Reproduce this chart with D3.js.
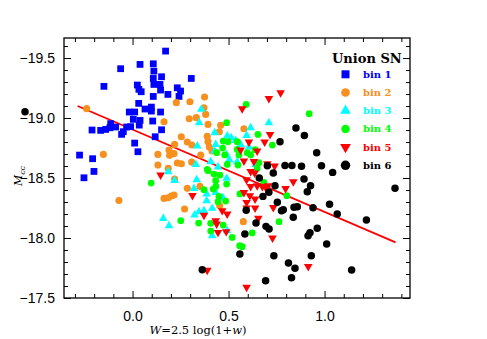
<!DOCTYPE html>
<html><head><meta charset="utf-8">
<script src="https://cdn.jsdelivr.net/npm/d3@7"></script>
<style>html,body{margin:0;padding:0;background:#fff;}svg{display:block;}</style>
</head><body>
<svg id="chart" width="487" height="339"></svg>
<script>
// ---- data (W, M) per bin ----
const bin1 = [[0.172,-19.558],[0.039,-19.447],[0.108,-19.452],[-0.062,-19.411],[0.111,-19.391],[-0.149,-19.264],[0.025,-19.275],[0.108,-19.330],[0.151,-19.344],[0.306,-19.330],[0.111,-19.280],[0.033,-19.239],[0.045,-19.219],[0.143,-19.280],[0.146,-19.233],[0.233,-19.252],[0.250,-19.225],[0.184,-19.197],[0.108,-19.180],[0.242,-19.180],[0.032,-19.122],[0.065,-19.075],[0.098,-19.091],[0.098,-19.058],[-0.017,-19.050],[0.011,-19.050],[0.146,-19.050],[0.105,-18.975],[0.004,-18.989],[0.039,-18.980],[0.035,-18.941],[-0.114,-18.953],[-0.211,-18.900],[-0.166,-18.897],[-0.140,-18.905],[-0.118,-18.919],[-0.088,-18.925],[-0.031,-18.925],[-0.010,-18.928],[-0.048,-18.886],[-0.057,-18.864],[0.151,-18.902],[0.118,-18.844],[0.011,-18.791],[0.028,-18.719],[-0.276,-18.691],[-0.208,-18.661],[-0.253,-18.502],[-0.201,-18.555]];
const bin2 = [[-0.239,-19.078],[-0.152,-18.697],[0.228,-19.128],[0.299,-19.136],[0.375,-19.175],[0.372,-19.086],[0.381,-19.030],[0.295,-18.994],[0.332,-19.003],[0.164,-18.969],[0.393,-18.947],[0.459,-18.939],[0.452,-18.886],[0.389,-18.847],[0.254,-18.844],[0.285,-18.800],[0.219,-18.780],[0.190,-18.733],[0.393,-18.803],[0.400,-18.758],[0.414,-18.725],[0.309,-18.775],[0.355,-18.692],[0.132,-18.697],[0.193,-18.689],[0.216,-18.703],[0.233,-18.625],[0.254,-18.619],[0.132,-18.608],[0.186,-18.580],[0.308,-18.633],[-0.071,-18.313],[0.219,-18.491],[0.285,-18.414],[0.351,-18.430],[0.164,-18.330],[0.186,-18.336],[0.202,-18.350],[0.216,-18.358],[0.271,-18.242],[0.454,-18.269],[0.580,-18.911],[0.577,-18.136]];
const bin3 = [[0.358,-19.072],[0.347,-18.961],[0.428,-18.878],[0.337,-18.767],[0.330,-18.613],[0.433,-18.780],[0.428,-18.725],[0.493,-18.850],[0.514,-18.836],[0.537,-18.813],[0.407,-18.636],[0.445,-18.592],[0.710,-18.961],[0.615,-18.919],[0.594,-18.855],[0.606,-18.758],[0.563,-18.780],[0.545,-18.636],[0.641,-18.613],[0.186,-18.553],[0.219,-18.480],[0.334,-18.486],[0.320,-18.413],[0.386,-18.367],[0.386,-18.311],[0.346,-18.219],[0.323,-18.192],[0.372,-18.228],[0.415,-18.247],[0.160,-18.163],[0.190,-18.103],[0.415,-18.019],[0.493,-18.061],[0.490,-18.497],[0.433,-18.380],[0.490,-18.694],[0.504,-18.653],[0.471,-18.336]];
const bin4 = [[0.490,-18.961],[0.472,-18.808],[0.497,-18.803],[0.545,-18.738],[0.438,-18.711],[0.480,-18.692],[0.493,-18.613],[0.389,-18.572],[0.592,-19.113],[0.920,-19.036],[0.653,-18.863],[0.728,-18.775],[0.545,-18.803],[0.597,-18.711],[0.615,-18.692],[0.554,-18.692],[0.549,-18.608],[0.658,-18.628],[0.097,-18.458],[0.393,-18.561],[0.424,-18.533],[0.455,-18.525],[0.420,-18.408],[0.433,-18.478],[0.490,-18.450],[0.445,-18.303],[0.485,-18.308],[0.372,-18.403],[0.251,-18.144],[0.344,-18.125],[0.407,-18.122],[0.407,-18.058],[0.472,-18.108],[0.519,-18.005],[0.558,-17.936],[0.450,-18.347],[0.559,-18.367],[0.763,-18.136],[0.623,-18.042],[0.571,-17.928],[0.684,-18.463],[0.803,-18.353],[0.649,-18.580],[0.469,-18.750],[0.638,-18.736],[0.434,-18.430]];
const bin5 = [[0.771,-19.211],[0.710,-19.163],[0.571,-19.078],[0.716,-18.863],[0.688,-18.800],[0.606,-18.800],[0.563,-18.733],[0.649,-18.725],[0.580,-18.642],[0.632,-18.638],[0.702,-18.619],[0.740,-18.600],[0.615,-18.555],[0.636,-18.542],[0.594,-18.486],[0.615,-18.430],[0.649,-18.436],[0.676,-18.430],[0.705,-18.436],[0.580,-18.380],[0.611,-18.353],[0.638,-18.325],[0.594,-18.297],[0.837,-18.469],[0.797,-18.413],[0.594,-18.250],[0.638,-18.250],[0.733,-18.255],[0.655,-18.165],[0.729,-18.000],[0.915,-17.763],[0.594,-17.590],[0.146,-18.525],[0.312,-18.355],[0.372,-18.190],[0.433,-18.144],[0.445,-18.047],[0.488,-18.053],[0.467,-18.228],[0.493,-18.200],[0.438,-18.117],[0.389,-17.732],[0.698,-18.408]];
const bin6 = [[0.851,-18.917],[0.895,-18.855],[0.768,-18.803],[0.959,-18.711],[0.702,-18.603],[0.794,-18.605],[0.830,-18.605],[0.880,-18.598],[0.984,-18.603],[1.042,-18.547],[0.893,-18.492],[0.927,-18.436],[0.910,-18.386],[0.742,-18.436],[0.710,-18.382],[0.679,-18.347],[0.754,-18.298],[0.776,-18.228],[0.785,-18.236],[0.841,-18.257],[0.858,-18.261],[0.940,-18.253],[1.026,-18.282],[1.066,-18.200],[1.218,-18.150],[1.367,-18.415],[0.837,-18.173],[0.592,-18.232],[0.643,-18.125],[0.695,-18.097],[0.711,-18.075],[0.962,-18.082],[0.924,-18.044],[0.914,-18.019],[0.585,-18.034],[1.011,-17.951],[0.559,-17.867],[0.736,-17.853],[0.931,-17.853],[0.812,-17.792],[0.846,-17.747],[0.828,-17.669],[0.693,-17.644],[1.141,-17.734],[0.363,-17.736],[0.660,-18.500],[0.733,-18.542],[-0.560,-19.053]];

const binNames = ["bin 1","bin 2","bin 3","bin 4","bin 5","bin 6"];
const binColors = ["#0000ff","#f7901e","#00ffff","#00ff00","#ff0000","#000000"];
const legendTitle = "Union SN";
const fitSlope = 0.6866, fitIntercept = -18.904, fitRange = [-0.286, 1.37];
const xMajorTicks = [0.0, 0.5, 1.0];
const yMajorTicks = [-19.5, -19.0, -18.5, -18.0, -17.5];
const xDomain = [-0.357, 1.445];
const yDomain = [-17.5, -19.667];

const svg = d3.select("#chart");
const L = 64, R = 410, T = 38, B = 298;
const x = d3.scaleLinear().domain(xDomain).range([L, R]);
const y = d3.scaleLinear().domain(yDomain).range([B, T]);

// fit line
svg.append("line")
  .attr("x1", x(fitRange[0])).attr("y1", y(fitIntercept + fitSlope*fitRange[0]))
  .attr("x2", x(fitRange[1])).attr("y2", y(fitIntercept + fitSlope*fitRange[1]))
  .attr("stroke", "#ff0000").attr("stroke-width", 1.8);

// markers
const shapes = [
  {type: d3.symbolSquare, size: 46, rot: 0},
  {type: d3.symbolCircle, size: 40, rot: 0},
  {type: d3.symbolTriangle, size: 32, rot: 0},
  {type: d3.symbolCircle, size: 36, rot: 0},
  {type: d3.symbolTriangle, size: 32, rot: 180},
  {type: d3.symbolCircle, size: 44, rot: 0}
];
const bins = [bin1, bin2, bin3, bin4, bin5, bin6];
bins.forEach((data, i) => {
  const s = shapes[i];
  svg.append("g").selectAll("path").data(data).enter().append("path")
    .attr("d", d3.symbol().type(s.type).size(s.size))
    .attr("transform", d => `translate(${x(d[0])},${y(d[1])}) rotate(${s.rot})`)
    .attr("fill", binColors[i]);
});

// frame
svg.append("rect").attr("x", L).attr("y", T).attr("width", R-L).attr("height", B-T)
  .attr("fill", "none").attr("stroke", "#000").attr("stroke-width", 1.3);

// axes with inward ticks
const xMinor = d3.range(-3, 15).map(v => v/10).filter(v => !xMajorTicks.some(m => Math.abs(m-v) < 1e-6));
const yMinor = d3.range(-196, -175).map(v => v/10).filter(v => !yMajorTicks.some(m => Math.abs(m-v) < 1e-6));
const fmt = d => (d < 0 ? "\u2212" : "") + Math.abs(d).toFixed(1);

function styleAxis(g){ g.select(".domain").remove(); g.selectAll("line").attr("stroke","#000").attr("stroke-width",1); }

svg.append("g").attr("transform", `translate(0,${B})`)
  .call(d3.axisBottom(x).tickValues(xMajorTicks).tickSizeInner(-7).tickSizeOuter(0).tickPadding(13).tickFormat(fmt))
  .call(styleAxis);
svg.append("g").attr("transform", `translate(0,${B})`)
  .call(d3.axisBottom(x).tickValues(xMinor).tickSizeInner(-4).tickSizeOuter(0).tickFormat(""))
  .call(styleAxis);
svg.append("g").attr("transform", `translate(0,${T})`)
  .call(d3.axisTop(x).tickValues(xMajorTicks).tickSizeInner(-7).tickSizeOuter(0).tickFormat(""))
  .call(styleAxis);
svg.append("g").attr("transform", `translate(0,${T})`)
  .call(d3.axisTop(x).tickValues(xMinor).tickSizeInner(-4).tickSizeOuter(0).tickFormat(""))
  .call(styleAxis);
svg.append("g").attr("transform", `translate(${L},0)`)
  .call(d3.axisLeft(y).tickValues(yMajorTicks).tickSizeInner(-7).tickSizeOuter(0).tickPadding(9).tickFormat(fmt))
  .call(styleAxis);
svg.append("g").attr("transform", `translate(${L},0)`)
  .call(d3.axisLeft(y).tickValues(yMinor).tickSizeInner(-4).tickSizeOuter(0).tickFormat(""))
  .call(styleAxis);
svg.append("g").attr("transform", `translate(${R},0)`)
  .call(d3.axisRight(y).tickValues(yMajorTicks).tickSizeInner(-7).tickSizeOuter(0).tickFormat(""))
  .call(styleAxis);
svg.append("g").attr("transform", `translate(${R},0)`)
  .call(d3.axisRight(y).tickValues(yMinor).tickSizeInner(-4).tickSizeOuter(0).tickFormat(""))
  .call(styleAxis);
svg.selectAll(".tick text").attr("font-family", "Liberation Sans, Arial, sans-serif").attr("font-size", 14).attr("fill", "#000");

// axis titles
const xt = svg.append("text").attr("x", 198).attr("y", 334).attr("text-anchor", "middle")
  .attr("font-family", "DejaVu Serif, serif").attr("font-size", 11.5).attr("fill", "#000");
xt.append("tspan").attr("font-style", "italic").text("W");
xt.append("tspan").text("=2.5 log(1+");
xt.append("tspan").attr("font-style", "italic").text("w");
xt.append("tspan").text(")");

const yt = svg.append("text").attr("transform", "translate(22,176) rotate(-90)").attr("text-anchor", "middle")
  .attr("font-family", "DejaVu Serif, serif").attr("font-size", 11).attr("fill", "#000");
yt.append("tspan").attr("font-style", "italic").text("M");
yt.append("tspan").attr("font-style", "italic").attr("font-size", 8).attr("dy", 3).text("cc");

// legend
svg.append("text").attr("x", 332).attr("y", 63).attr("font-family", "DejaVu Serif, serif")
  .attr("font-weight", "bold").attr("font-size", 13).attr("fill", "#000").text(legendTitle);
const legendShapes = [
  {type: d3.symbolSquare, size: 64, rot: 0},
  {type: d3.symbolCircle, size: 60, rot: 0},
  {type: d3.symbolTriangle, size: 50, rot: 0},
  {type: d3.symbolCircle, size: 56, rot: 0},
  {type: d3.symbolTriangle, size: 50, rot: 180},
  {type: d3.symbolCircle, size: 70, rot: 0}
];
const ly = d3.scaleLinear().domain([0, 5]).range([74.3, 165.3]);
binNames.forEach((name, i) => {
  const s = legendShapes[i];
  svg.append("path").attr("d", d3.symbol().type(s.type).size(s.size))
    .attr("transform", `translate(345.5,${ly(i)}) rotate(${s.rot})`).attr("fill", binColors[i]);
  svg.append("text").attr("x", 363).attr("y", ly(i) + 3.5).attr("font-family", "DejaVu Serif, serif")
    .attr("font-weight", "bold").attr("font-size", 10).attr("fill", binColors[i]).text(name);
});
</script>
</body></html>
